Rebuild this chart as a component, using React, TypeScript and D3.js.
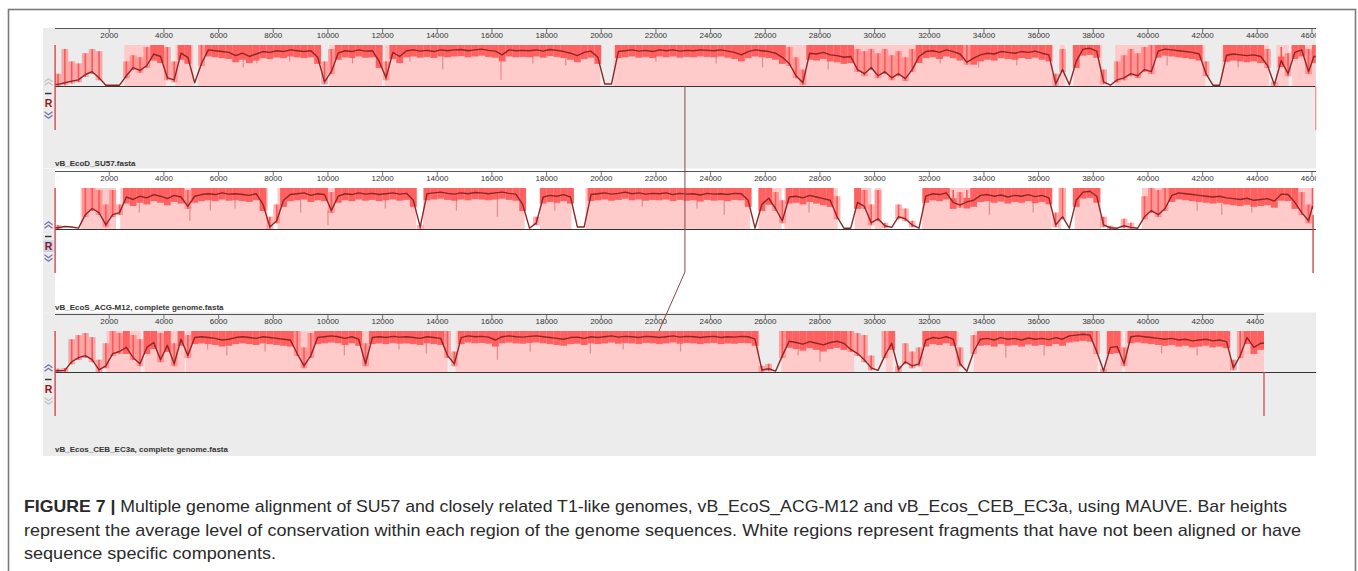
import React from 'react';
import * as d3 from 'd3';

// ---------- DATA ----------
const BIN = 250; // bp per profile value
const tickValues = d3.range(2000, 46001, 2000);
const genomeNames = [
  'vB_EcoD_SU57.fasta',
  'vB_EcoS_ACG-M12, complete genome.fasta',
  'vB_Ecos_CEB_EC3a, complete genome.fasta',
];
const genomeLengths = [46137, 46040, 44245];

// average conservation (% , dark line) per 250 bp
const su57Avg = [
  4, 8, 12, 15, 28, 35, 20, 2, 2, 2,
  25, 45, 38, 50, 78, 72, 20, 15, 80, 70,
  8, 55, 88, 86, 84, 82, 74, 80, 72, 78,
  84, 82, 86, 84, 88, 86, 84, 86, 70, 10,
  35, 80, 86, 84, 88, 85, 86, 60, 20, 82,
  72, 86, 88, 85, 87, 84, 88, 86, 88, 89,
  86, 88, 90, 87, 85, 76, 88, 86, 87, 86,
  88, 85, 89, 87, 84, 80, 74, 82, 85, 70,
  5, 5, 84, 86, 88, 85, 87, 84, 88, 86,
  88, 85, 87, 86, 88, 87, 86, 88, 85, 82,
  76, 84, 88, 86, 84, 80, 70, 55, 25, 8,
  80, 78, 82, 76, 74, 70, 72, 40, 30, 45,
  25, 35, 20, 30, 18, 40, 72, 84, 86, 82,
  88, 84, 78, 58, 68, 76, 80, 78, 84, 82,
  80, 84, 82, 85, 80, 76, 5, 40, 3, 60,
  90, 92, 85, 10, 2, 15, 20, 30, 25, 40,
  35, 85, 90, 88, 86, 84, 82, 78, 30, 2,
  2, 75, 78, 76, 74, 76, 72, 50, 3, 62,
  30, 82, 88, 35, 72,
];
// upper envelope (% , bright red) per 250 bp
const su57Peak = [
  30, 90, 60, 55, 80, 90, 85, 2, 2, 2,
  60, 75, 70, 95, 100, 100, 95, 60, 100, 100,
  10, 100, 100, 100, 100, 100, 100, 100, 100, 100,
  100, 100, 100, 100, 100, 100, 100, 100, 100, 60,
  90, 100, 100, 100, 100, 100, 100, 100, 60, 100,
  100, 100, 100, 100, 100, 100, 100, 100, 100, 100,
  100, 100, 100, 100, 100, 100, 100, 100, 100, 100,
  100, 100, 100, 100, 100, 100, 100, 100, 100, 100,
  8, 8, 100, 100, 100, 100, 100, 100, 100, 100,
  100, 100, 100, 100, 100, 100, 100, 100, 100, 100,
  100, 100, 100, 100, 100, 100, 100, 95, 70, 40,
  100, 100, 100, 100, 100, 100, 100, 90, 85, 90,
  80, 90, 75, 85, 70, 90, 100, 100, 100, 100,
  100, 100, 100, 100, 100, 100, 100, 100, 100, 100,
  100, 100, 100, 100, 100, 100, 30, 90, 5, 100,
  100, 100, 100, 40, 2, 60, 75, 90, 80, 95,
  100, 100, 100, 100, 100, 100, 100, 100, 60, 2,
  2, 100, 100, 100, 100, 100, 100, 90, 10, 95,
  80, 100, 100, 90, 100,
];
const acgAvg = [
  3, 6, 5, 2, 35, 50, 40, 10, 35, 40,
  78, 72, 80, 76, 84, 80, 74, 82, 78, 55,
  80, 84, 86, 84, 88, 85, 86, 84, 82, 86,
  60, 5, 20, 70, 84, 86, 88, 82, 86, 84,
  45, 80, 86, 84, 88, 85, 87, 84, 86, 88,
  85, 87, 70, 5, 86, 88, 90, 87, 85, 88,
  86, 89, 88, 86, 88, 90, 87, 85, 60, 2,
  15, 78, 82, 80, 84, 78, 5, 5, 84, 86,
  88, 85, 87, 90, 86, 88, 85, 87, 86, 88,
  84, 87, 85, 86, 83, 87, 85, 86, 84, 87,
  86, 70, 2, 60, 75, 50, 20, 78, 80, 76,
  82, 78, 74, 70, 30, 2, 2, 65, 55, 15,
  25, 8, 4, 30, 25, 10, 2, 80, 86, 84,
  88, 65, 58, 66, 70, 82, 84, 80, 83, 78,
  82, 80, 84, 79, 82, 76, 10, 30, 2, 70,
  90, 92, 80, 10, 3, 2, 8, 4, 2, 30,
  45, 35, 50, 82, 88, 86, 84, 82, 80, 78,
  80, 76, 74, 72, 75, 70, 72, 74, 68, 85,
  84, 65, 40, 20, 55,
];
const acgPeak = [
  10, 10, 8, 2, 100, 100, 95, 60, 95, 60,
  100, 100, 100, 100, 100, 100, 100, 100, 100, 95,
  100, 100, 100, 100, 100, 100, 100, 100, 100, 100,
  100, 30, 60, 100, 100, 100, 100, 100, 100, 100,
  90, 100, 100, 100, 100, 100, 100, 100, 100, 100,
  100, 100, 100, 10, 100, 100, 100, 100, 100, 100,
  100, 100, 100, 100, 100, 100, 100, 100, 100, 4,
  30, 100, 100, 100, 100, 100, 8, 8, 100, 100,
  100, 100, 100, 100, 100, 100, 100, 100, 100, 100,
  100, 100, 100, 100, 100, 100, 100, 100, 100, 100,
  100, 100, 4, 100, 100, 90, 70, 100, 100, 100,
  100, 100, 100, 100, 80, 2, 2, 100, 95, 60,
  95, 15, 6, 60, 50, 20, 2, 100, 100, 100,
  100, 95, 90, 95, 100, 100, 100, 100, 100, 100,
  100, 100, 100, 100, 100, 100, 40, 100, 4, 100,
  100, 100, 100, 30, 8, 6, 25, 15, 5, 80,
  100, 95, 100, 100, 100, 100, 100, 100, 100, 100,
  100, 100, 100, 100, 100, 100, 100, 100, 100, 100,
  100, 100, 90, 60, 100,
];
const cebAvg = [
  3, 4, 25, 35, 40, 30, 5, 15, 45, 50,
  60, 35, 20, 60, 72, 30, 65, 20, 80, 40,
  84, 86, 84, 82, 78, 80, 84, 86, 84, 82,
  86, 84, 82, 80, 78, 45, 15, 40, 84, 86,
  88, 86, 82, 86, 80, 20, 84, 86, 84, 87,
  85, 86, 84, 82, 86, 84, 82, 40, 20, 84,
  88, 86, 87, 85, 78, 86, 88, 86, 85, 87,
  88, 86, 84, 82, 80, 84, 85, 82, 86, 84,
  86, 88, 85, 87, 86, 84, 87, 86, 84, 86,
  88, 85, 87, 86, 84, 86, 87, 84, 86, 85,
  87, 86, 80, 5, 8, 2, 40, 75, 72, 68,
  74, 70, 66, 72, 75, 70, 55, 45, 30, 10,
  4, 40, 70, 6, 25, 15, 20, 78, 84, 82,
  86, 80, 20, 2, 50, 80, 82, 78, 84, 80,
  82, 78, 83, 80, 82, 79, 84, 80, 88, 90,
  92, 90, 50, 3, 60, 62, 20, 86, 88, 86,
  84, 82, 80, 82, 78, 80, 76, 78, 80, 76,
  78, 74, 10, 40, 84, 60, 70,
];
const cebPeak = [
  8, 10, 80, 90, 95, 85, 30, 70, 100, 95,
  100, 90, 80, 100, 100, 95, 100, 70, 100, 90,
  100, 100, 100, 100, 100, 100, 100, 100, 100, 100,
  100, 100, 100, 100, 100, 100, 60, 95, 100, 100,
  100, 100, 100, 100, 100, 70, 100, 100, 100, 100,
  100, 100, 100, 100, 100, 100, 100, 100, 50, 100,
  100, 100, 100, 100, 100, 100, 100, 100, 100, 100,
  100, 100, 100, 100, 100, 100, 100, 100, 100, 100,
  100, 100, 100, 100, 100, 100, 100, 100, 100, 100,
  100, 100, 100, 100, 100, 100, 100, 100, 100, 100,
  100, 100, 100, 15, 20, 4, 100, 100, 100, 100,
  100, 100, 100, 100, 100, 100, 100, 95, 90, 40,
  8, 100, 100, 15, 70, 50, 60, 100, 100, 100,
  100, 100, 60, 5, 90, 100, 100, 100, 100, 100,
  100, 100, 100, 100, 100, 100, 100, 100, 100, 100,
  100, 100, 100, 8, 100, 100, 60, 100, 100, 100,
  100, 100, 100, 100, 100, 100, 100, 100, 100, 100,
  100, 100, 30, 100, 100, 100, 100,
];

// aligned blocks (bp intervals, pink background)
const su57Blocks = [
  [2550, 4080], [4420, 5080], [5250, 9720], [10050, 11980], [12080, 19960],
  [20450, 36520], [36780, 36960], [37280, 38330], [38800, 42100], [42700, 44420],
  [44700, 45150], [45280, 46137],
];
const acgBlocks = [
  [950, 2250], [2400, 7800], [8150, 13230], [13480, 17200], [17760, 18910],
  [19420, 25450], [25750, 26600], [26700, 28650], [29270, 29880], [30000, 30250],
  [31740, 36470], [36720, 36820], [37320, 38280], [39780, 46040],
];
const cebBlocks = [
  [1900, 3150], [3300, 4760], [4810, 14370], [14670, 25780], [26590, 29250],
  [30410, 30660], [31720, 33080], [33630, 38160], [38460, 39060], [39160, 43040],
  [43340, 44245],
];

// narrow downward dips (bp position, % reached)
const su57Dips = [
  [6900, 45], [7400, 55], [8600, 60], [10900, 55], [13000, 60], [14200, 40],
  [16330, 15], [17500, 55], [18700, 50], [22000, 60], [24200, 55], [25900, 45],
  [28300, 40], [32400, 55], [33800, 45], [35200, 50], [40700, 50], [43300, 45],
];
const acgDips = [
  [3100, 40], [4950, 20], [5700, 45], [6600, 50], [9000, 40], [10000, 10],
  [12100, 50], [14700, 45], [16200, 30], [18300, 45], [21500, 55], [23500, 50],
  [24500, 35], [27600, 40], [34200, 35], [35800, 40], [41800, 45], [42700, 35], [43800, 40],
];
const cebDips = [
  [5600, 55], [6300, 40], [7700, 50], [10600, 40], [12600, 55], [13600, 45],
  [16200, 30], [17400, 50], [19600, 45], [20800, 55], [22900, 50], [27200, 40],
  [28000, 25], [34800, 35], [36200, 40], [40500, 45], [41800, 40],
];

// matching-point connector (bp in each genome)
const connectorPos = [23060, 23060, 22110];

const captionLines = [
  ' Multiple genome alignment of SU57 and closely related T1-like genomes, vB_EcoS_ACG-M12 and vB_Ecos_CEB_EC3a, using MAUVE. Bar heights',
  'represent the average level of conservation within each region of the genome sequences. White regions represent fragments that have not been aligned or have',
  'sequence specific components.',
];

// ---------- LAYOUT / STYLE ----------
const tracks = [
  { avg: su57Avg, peak: su57Peak, blocks: su57Blocks, dips: su57Dips },
  { avg: acgAvg, peak: acgPeak, blocks: acgBlocks, dips: acgDips },
  { avg: cebAvg, peak: cebPeak, blocks: cebBlocks, dips: cebDips },
];
const layout = [
  { panelTop: 28, panelBottom: 168.5, axisY: 28.5, top: 45, base: 86, labelY: 166, dataBg: '#ececec', axisEnd: 1316,
    up: '#c4c4c4', down: '#77739f', rBg: null as string | null, endColor: '#ff8c8c' },
  { panelTop: 169, panelBottom: 312.5, axisY: 171.5, top: 188, base: 229, labelY: 309.5, dataBg: '#ffffff', axisEnd: 1316,
    up: '#77739f', down: '#77739f', rBg: '#c9d0e6', endColor: '#c83c3c' },
  { panelTop: 312.5, panelBottom: 456, axisY: 314.5, top: 331, base: 372, labelY: 452, dataBg: '#ececec', axisEnd: 1264,
    up: '#77739f', down: '#c4c4c4', rBg: null as string | null, endColor: '#d84a4a' },
];
const PANEL_L = 43, DATA_L = 55, PANEL_R = 1316;
const PINK = '#ffcaca', RED = '#ff5757', DARK = '#8f2626', DIP = '#d98f8f';

function chevron(cx: number, cy: number, dir: number) {
  // dir -1 = up, 1 = down
  const a = (o: number) => `M${cx - 4},${cy + o - dir * 1.5}L${cx},${cy + o + dir * 1.5}L${cx + 4},${cy + o - dir * 1.5}`;
  return a(-1.8) + a(1.8);
}

export default function App() {
  const W = 1358, H = 571;
  const x = d3.scaleLinear().domain([0, 46000]).range([54.6, 54.6 + 46000 * 0.027334]);
  const font = "'Liberation Sans', Arial, Helvetica, sans-serif";

  const trackEls = tracks.map((t, ti) => {
    const L = layout[ti];
    const len = genomeLengths[ti];
    const y = d3.scaleLinear().domain([0, 100]).range([L.base, L.top]);
    const bins = t.avg.map((v, i) => ({
      s: i * BIN,
      e: Math.min((i + 1) * BIN, len),
      v,
      p: Math.max(t.peak[i], v),
    }));
    const pts: [number, number][] = [[0, bins[0].v], ...bins.map(b => [(b.s + b.e) / 2, b.v] as [number, number]), [len, bins[bins.length - 1].v]];
    const linePath = d3.line<[number, number]>().x(d => x(d[0])).y(d => y(d[1]))(pts) || '';
    const bandEls: React.ReactNode[] = [];
    const spikeEls: React.ReactNode[] = [];
    bins.forEach((b, i) => {
      const bx = x(b.s);
      const bw = Math.max(x(b.e) - x(b.s), 0.5);
      const cx = x((b.s + b.e) / 2);
      if (b.v >= 60) {
        const lo = Math.max(b.v - 16, 0);
        const hi = b.p >= 98 ? 100 : Math.min(b.p, b.v + 10);
        bandEls.push(
          <rect key={i} x={bx} width={bw} y={y(hi)} height={Math.max(y(lo) - y(hi), 0)} fill={RED} opacity={0.92} />
        );
        if (b.p > hi + 2) {
          spikeEls.push(<line key={'s' + i} x1={cx} x2={cx} y1={y(b.v)} y2={y(b.p)} stroke={RED} strokeWidth={1.6} />);
        }
      } else if (b.p > b.v + 4) {
        // noisy stretch: translucent envelope plus a bright spike
        const lo = Math.max(b.v - 6, 0);
        bandEls.push(
          <rect key={i} x={bx} width={bw} y={y(b.p)} height={Math.max(y(lo) - y(b.p), 0)} fill={RED} opacity={0.45} />
        );
        spikeEls.push(<line key={'s' + i} x1={cx} x2={cx} y1={y(lo)} y2={y(b.p)} stroke={RED} strokeWidth={1.6} />);
      }
    });
    const dipEls = t.dips.map(([pos, d], i) => {
      const bi = Math.min(Math.floor(pos / BIN), bins.length - 1);
      return <line key={i} x1={x(pos)} x2={x(pos)} y1={y(bins[bi].v)} y2={y(d)} stroke={DIP} strokeWidth={1.2} />;
    });
    const clipId = `clip${ti}`;
    const axisClip = `aclip${ti}`;
    const rY = L.base + 21;
    return (
      <g key={ti}>
        <defs>
          <clipPath id={clipId}><rect x={DATA_L} y={L.panelTop} width={PANEL_R - DATA_L} height={L.panelBottom - L.panelTop} /></clipPath>
          <clipPath id={axisClip}><rect x={DATA_L} y={L.axisY - 2} width={L.axisEnd - DATA_L} height={14} /></clipPath>
        </defs>
        {/* panel backgrounds */}
        <rect x={PANEL_L} y={L.panelTop} width={DATA_L - PANEL_L} height={L.panelBottom - L.panelTop} fill="#ececec" />
        <rect x={DATA_L} y={L.panelTop} width={PANEL_R - DATA_L} height={L.panelBottom - L.panelTop} fill={L.dataBg} />
        <g clipPath={`url(#${clipId})`}>
          {t.blocks.map(([s, e], i) => (
            <rect key={i} x={x(s)} width={x(e) - x(s)} y={L.top} height={L.base - L.top} fill={PINK} />
          ))}
          {dipEls}
          {bandEls}
          {spikeEls}
          <path d={linePath} fill="none" stroke={DARK} strokeWidth={1.4} strokeLinejoin="round" />
        </g>
        {/* baseline */}
        <line x1={DATA_L} x2={PANEL_R} y1={L.base + 0.5} y2={L.base + 0.5} stroke="#333" strokeWidth={1} />
        {/* ruler */}
        <line x1={DATA_L} x2={L.axisEnd} y1={L.axisY} y2={L.axisY} stroke="#555" strokeWidth={1} />
        <g clipPath={`url(#${axisClip})`}>
          {tickValues.map(tv => (
            <g key={tv}>
              <line x1={x(tv)} x2={x(tv)} y1={L.axisY} y2={L.axisY + 4.5} stroke="#555" strokeWidth={0.8} />
              <text x={x(tv)} y={L.axisY + 9} textAnchor="middle" fontSize={8} fontFamily={font} fill="#333">{tv}</text>
            </g>
          ))}
        </g>
        {/* start / end markers */}
        <line x1={x(0) + 0.5} x2={x(0) + 0.5} y1={L.top} y2={L.base + 44} stroke="#d64848" strokeWidth={1.4} />
        <line x1={x(len)} x2={x(len)} y1={ti === 1 ? L.base - 14 : L.base} y2={L.base + 44} stroke={L.endColor} strokeWidth={1.3} />
        {/* reference controls */}
        <path d={chevron(48.5, L.base - 4, -1)} fill="none" stroke={L.up} strokeWidth={1.3} />
        <line x1={45} x2={51.5} y1={L.base + 7.5} y2={L.base + 7.5} stroke="#333" strokeWidth={1.4} />
        {L.rBg && <rect x={43.5} y={rY - 9.5} width={10} height={11.5} fill={L.rBg} />}
        <text x={48.5} y={rY} textAnchor="middle" fontSize={10.5} fontWeight="bold" fontFamily={font} fill="#8b1a1a">R</text>
        <path d={chevron(48.5, L.base + 29, 1)} fill="none" stroke={L.down} strokeWidth={1.3} />
        {/* genome name */}
        <text x={DATA_L} y={L.labelY} fontSize={8} fontWeight="bold" fontFamily={font} fill="#333">{genomeNames[ti]}</text>
      </g>
    );
  });

  const c0 = x(connectorPos[0]), c1 = x(connectorPos[1]), c2 = x(connectorPos[2]);

  return (
    <svg width={W} height={H} style={{ position: 'absolute', left: 0, top: 0, display: 'block', background: '#fff' }}>
      {trackEls}
      <path
        d={`M${c0},${layout[0].base}L${c1},${layout[1].base + 43}L${c2},${layout[2].top}`}
        fill="none" stroke="#8c4646" strokeWidth={1}
      />
      <rect x={8.5} y={9.5} width={1347} height={600} fill="none" stroke="#7a7a7a" strokeWidth={1.6} />
      <g fontFamily={font} fill="#2a2a2a" fontSize={17}>
        <text x={24} y={512} textLength={1263} lengthAdjust="spacingAndGlyphs">
          <tspan fontWeight="bold">FIGURE 7 |</tspan>{captionLines[0]}
        </text>
        <text x={24} y={535.5} textLength={1277} lengthAdjust="spacingAndGlyphs">{captionLines[1]}</text>
        <text x={24} y={558.5} textLength={252} lengthAdjust="spacingAndGlyphs">{captionLines[2]}</text>
      </g>
    </svg>
  );
}
